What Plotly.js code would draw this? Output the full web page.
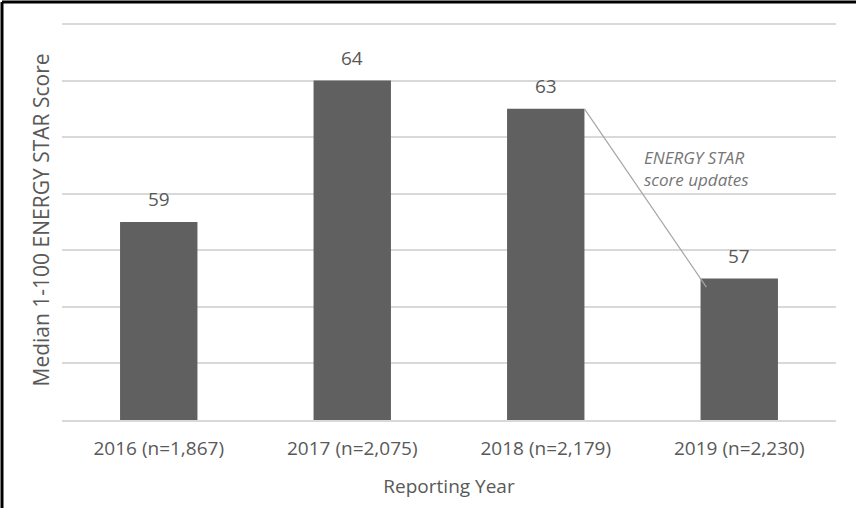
<!DOCTYPE html>
<html>
<head>
<meta charset="utf-8">
<script src="https://cdn.plot.ly/plotly-3.0.1.min.js"></script>
<style>
  html, body { margin: 0; padding: 0; background: #ffffff; }
  #chart { width: 856px; height: 508px; }
</style>
</head>
<body>
<div id="chart"></div>
<script>
const categories = ["2016 (n=1,867)", "2017 (n=2,075)", "2018 (n=2,179)", "2019 (n=2,230)"];
const medianScores = [59, 64, 63, 57];
const yAxisTitle = "Median 1-100 ENERGY STAR Score";
const xAxisTitle = "Reporting Year";
const calloutText = "ENERGY STAR<br>score updates";

const FONT = "Open Sans, sans-serif";
const TXT = "#595959";

const W = 856, H = 508;
const margin = {l: 62, r: 20, t: 20, b: 88};
const pw = W - margin.l - margin.r, ph = H - margin.t - margin.b;
// 52..66 spans 396px; pad top by 4px so the 66 gridline is drawn
const yMin = 52, yMax = 66 + 4 * 14 / 396;

function py(pix) { return 1 - (pix - margin.t) / ph; }
function px(pix) { return (pix - margin.l) / pw; }

const barTrace = {
  type: "bar",
  x: categories,
  y: medianScores,
  marker: {color: "#606060", line: {width: 0}},
  hoverinfo: "skip",
  showlegend: false
};

const labelAnns = categories.map((c, i) => ({
  x: c, y: medianScores[i], xref: "x", yref: "y",
  text: String(medianScores[i]),
  showarrow: false, yanchor: "bottom", yshift: 8,
  font: {family: FONT, size: 19, color: TXT}
}));

// callout line from right top corner of 2018 bar into 2019 bar
const calloutShape = {
  type: "line", xref: "x", yref: "y",
  x0: 2 + 0.2, y0: medianScores[2],
  x1: 3 - 0.17, y1: medianScores[3] - 0.3,
  line: {color: "#a6a6a6", width: 1.2}
};

const calloutAnn = {
  xref: "paper", yref: "paper",
  x: px(642), y: py(168.5),
  xanchor: "left", yanchor: "middle", align: "left",
  text: "<i>" + calloutText.replace("<br>", "</i><br><i>") + "</i>",
  showarrow: false,
  font: {family: FONT, size: 17, color: "#767676"}
};

const borderShapes = [
  {type: "line", xref: "paper", yref: "paper",
   x0: px(2), x1: px(W), y0: py(2), y1: py(2),
   line: {color: "#000000", width: 3}},
  {type: "line", xref: "paper", yref: "paper",
   x0: px(2), x1: px(2), y0: py(2), y1: py(H),
   line: {color: "#000000", width: 3}}
];

const layout = {
  width: W, height: H,
  margin: margin,
  paper_bgcolor: "#ffffff",
  plot_bgcolor: "#ffffff",
  bargap: 0.6,
  font: {family: FONT, color: TXT},
  xaxis: {
    type: "category",
    showgrid: false, zeroline: false,
    showline: true, linecolor: "#d9d9d9", linewidth: 2,
    ticks: "", tickfont: {family: FONT, size: 19, color: TXT},
    ticklabelstandoff: 10,
    title: {text: xAxisTitle, font: {family: FONT, size: 19, color: TXT}, standoff: 20},
    automargin: false
  },
  yaxis: {
    range: [yMin, yMax], dtick: 2, tick0: 52,
    showgrid: true, gridcolor: "#d9d9d9", gridwidth: 2,
    zeroline: false, showline: false, showticklabels: false, ticks: "",
    title: {text: yAxisTitle, font: {family: FONT, size: 21, color: TXT}, standoff: 5},
    automargin: false
  },
  shapes: [calloutShape].concat(borderShapes),
  annotations: labelAnns.concat([calloutAnn])
};

Plotly.newPlot("chart", [barTrace], layout, {displayModeBar: false, staticPlot: true});
</script>
</body>
</html>
